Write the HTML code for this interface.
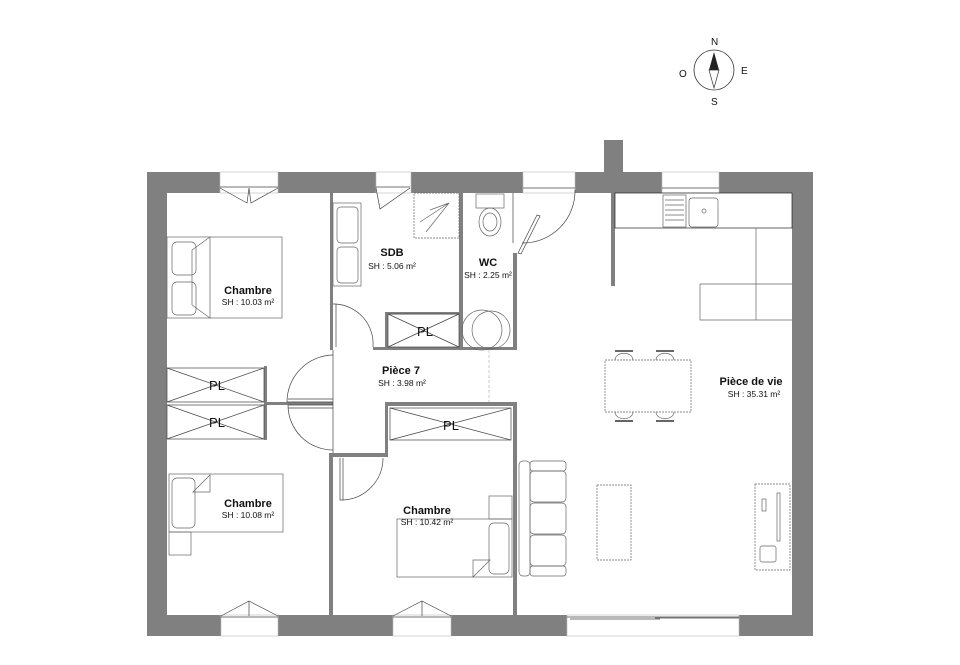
<!DOCTYPE html>
<html><head><meta charset="utf-8"><style>
html,body{margin:0;padding:0;background:#fff;}
svg{display:block;}
text{font-family:"Liberation Sans",sans-serif;fill:#111;}
.b{font-weight:bold;font-size:11px;text-anchor:middle;}
.s{font-size:8.5px;text-anchor:middle;}
.pl{font-size:13px;text-anchor:middle;}
</style></head><body>
<svg width="960" height="665" viewBox="0 0 960 665" xmlns="http://www.w3.org/2000/svg">
<rect width="960" height="665" fill="#fff"/>
<!-- compass -->
<circle cx="714" cy="70" r="20" fill="none" stroke="#333" stroke-width="0.8"/>
<polygon points="714,52 709,70 719,70" fill="#222"/>
<polygon points="709,70 719,70 714,88" fill="#fff" stroke="#333" stroke-width="0.7"/>
<text x="711" y="45" font-size="10">N</text>
<text x="741" y="74" font-size="10">E</text>
<text x="711" y="105" font-size="10">S</text>
<text x="679" y="77" font-size="10">O</text>

<g fill="#808080">
<!-- outer walls -->
<rect x="147" y="172" width="20" height="464"/>
<rect x="792" y="172" width="21" height="464"/>
<rect x="147" y="172" width="666" height="21"/>
<rect x="147" y="615" width="666" height="21"/>
<rect x="604" y="140" width="19" height="33"/>
<!-- interior walls -->
<rect x="330" y="193" width="3" height="157"/>
<rect x="459" y="193" width="4" height="157"/>
<rect x="373" y="347" width="144" height="3"/>
<rect x="385" y="312" width="76" height="2.5"/>
<rect x="385" y="312" width="3" height="38"/>
<rect x="513" y="253" width="4" height="97"/>
<rect x="611" y="193" width="4" height="93"/>
<rect x="267" y="402" width="66" height="3"/>
<rect x="330" y="402" width="3" height="3"/>
<rect x="385" y="402" width="132" height="4"/>
<rect x="385" y="402" width="3" height="55"/>
<rect x="330" y="453" width="58" height="4"/>
<rect x="329" y="453" width="4" height="162"/>
<rect x="513" y="402" width="4" height="213"/>
<rect x="264" y="366" width="3" height="74"/>
</g>
<!-- window openings -->
<g fill="#fff" stroke="#bbb" stroke-width="0.6">
<rect x="220" y="172" width="58" height="21"/>
<rect x="376" y="172" width="35" height="21"/>
<rect x="523" y="172" width="52" height="21"/>
<rect x="662" y="172" width="57" height="21"/>
<rect x="221" y="615" width="57" height="21"/>
<rect x="393" y="615" width="58" height="21"/>
<rect x="567" y="615" width="172" height="21"/>
</g>
<g fill="none" stroke="#444" stroke-width="0.7">
<!-- window sashes -->
<line x1="220" y1="187" x2="278" y2="187"/><path d="M220,188 L247,203 L249,188 M278,188 L251,203 L249,188"/>
<line x1="376" y1="187" x2="410" y2="187"/><path d="M376,188 L380,209 L410,188"/>
<line x1="662" y1="188" x2="719" y2="188"/>
<line x1="221" y1="617" x2="278" y2="617"/><path d="M221,616 L249,601 L278,616 M249,601 L249,616"/>
<line x1="393" y1="617" x2="451" y2="617"/><path d="M393,616 L422,601 L451,616 M422,601 L422,616"/>
<line x1="567" y1="617" x2="739" y2="617"/><line x1="570" y1="619" x2="660" y2="619"/><line x1="655" y1="618" x2="739" y2="618"/>
<!-- entrance door -->
<line x1="523" y1="188" x2="575" y2="188"/>
<path d="M575,190 A52,52 0 0 1 522,243"/>
<path d="M537,215 L518,253 L521,254 L540,216 Z"/>
<line x1="513" y1="193" x2="513" y2="243"/>
<!-- SDB door -->
<path d="M333,304 L336,304 L336,347 M336,304 A40,40 0 0 1 373,347"/>
<!-- Pièce7 doors -->
<path d="M333,355 A47,47 0 0 0 287,402 L333,402 M288,399 L333,399"/>
<path d="M333,450 A45,45 0 0 1 288,405 L333,405 M288,408 L333,408"/>
<path d="M340,458 L340,500 L343,500 L343,458 M343,500 A42,42 0 0 0 383,458"/>
<line x1="333" y1="350" x2="333" y2="453"/>
</g>
<line x1="489" y1="350" x2="489" y2="402" stroke="#bbb" stroke-width="0.8" stroke-dasharray="3,2"/>
<!-- closets -->
<g fill="none" stroke="#444" stroke-width="0.7">
<rect x="167" y="368" width="97" height="34"/><path d="M167,368 L264,402 M264,368 L167,402"/>
<rect x="167" y="405" width="97" height="34"/><path d="M167,405 L264,439 M264,405 L167,439"/>
<rect x="388" y="314" width="71" height="33"/><path d="M388,314 L459,347 M459,314 L388,347"/>
<rect x="390" y="408" width="121" height="32"/><path d="M390,408 L511,440 M511,408 L390,440"/>
</g>
<text class="pl" x="217" y="390">PL</text>
<text class="pl" x="217" y="427">PL</text>
<text class="pl" x="425" y="336">PL</text>
<text class="pl" x="451" y="430">PL</text>
<!-- furniture -->
<g fill="none" stroke="#666" stroke-width="0.7">
<!-- bed 1 -->
<rect x="167" y="237" width="115" height="81"/>
<rect x="172" y="242" width="24" height="33" rx="5"/><rect x="172" y="282" width="24" height="33" rx="5"/>
<path d="M192,250 L210,237 L210,318 L192,305 M192,250 L192,305"/>
<!-- sdb -->
<rect x="333" y="203" width="28" height="83"/>
<rect x="337" y="207" width="21" height="36" rx="4"/><rect x="337" y="247" width="21" height="36" rx="4"/>
<rect x="414" y="193" width="45" height="45" stroke-dasharray="2,1"/>
<path d="M449,203 L426,232 M449,203 L420,222 M449,203 L430,210"/>
<!-- wc -->
<rect x="476" y="194" width="28" height="14"/>
<ellipse cx="490" cy="222" rx="11" ry="14"/><ellipse cx="490" cy="222" rx="7" ry="9"/>
<circle cx="482" cy="330" r="20"/><circle cx="491" cy="330" r="19"/>
<!-- kitchen -->
<rect x="615" y="193" width="177" height="35" stroke="#222"/>
<rect x="663" y="195" width="23" height="32"/><rect x="689" y="198" width="29" height="29" rx="3"/>
<path d="M665,200 L684,200 M665,205 L684,205 M665,210 L684,210 M665,215 L684,215 M665,220 L684,220"/>
<circle cx="704" cy="211" r="2"/>
<path d="M756,228 L756,320 L792,320 M700,284 L792,284 M700,284 L700,320 L756,320"/>
<!-- dining -->
<rect x="605" y="360" width="86" height="52" stroke-dasharray="2,1"/>
<path d="M615,360 A8,6 0 0 1 633,360 M656,360 A8,6 0 0 1 674,360 M615,412 A8,6 0 0 0 633,412 M656,412 A8,6 0 0 0 674,412"/>
<line x1="615" y1="351" x2="633" y2="351" stroke-width="2"/><line x1="656" y1="351" x2="674" y2="351" stroke-width="2"/>
<line x1="615" y1="421" x2="633" y2="421" stroke-width="2"/><line x1="656" y1="421" x2="674" y2="421" stroke-width="2"/>
<!-- sofa -->
<rect x="519" y="461" width="11" height="115" rx="4"/>
<rect x="530" y="461" width="36" height="10" rx="3"/><rect x="530" y="566" width="36" height="10" rx="3"/>
<rect x="530" y="471" width="36" height="31" rx="4"/><rect x="530" y="503" width="36" height="31" rx="4"/><rect x="530" y="535" width="36" height="31" rx="4"/>
<rect x="597" y="485" width="34" height="75" stroke-dasharray="2,1"/>
<rect x="755" y="484" width="35" height="86" stroke-dasharray="2,1"/>
<rect x="777" y="493" width="3" height="48"/><rect x="762" y="499" width="4" height="12"/><rect x="760" y="546" width="16" height="16" rx="2"/>
<!-- bed lower left -->
<rect x="169" y="474" width="114" height="58"/>
<rect x="172" y="478" width="23" height="50" rx="5"/>
<path d="M193,492 L210,475 L210,492 Z"/>
<rect x="169" y="532" width="22" height="23"/>
<!-- bed middle -->
<rect x="397" y="519" width="115" height="58"/>
<rect x="489" y="523" width="20" height="51" rx="5"/>
<path d="M490,560 L473,577 L473,560 Z"/>
<rect x="489" y="496" width="23" height="23"/>
</g>
<!-- labels -->
<text class="b" x="248" y="294">Chambre</text><text class="s" x="248" y="305">SH : 10.03 m²</text>
<text class="b" x="392" y="256">SDB</text><text class="s" x="392" y="269">SH : 5.06 m²</text>
<text class="b" x="488" y="266">WC</text><text class="s" x="488" y="278">SH : 2.25 m²</text>
<text class="b" x="401" y="374">Pièce 7</text><text class="s" x="402" y="386">SH : 3.98 m²</text>
<text class="b" x="751" y="385">Pièce de vie</text><text class="s" x="754" y="397">SH : 35.31 m²</text>
<text class="b" x="248" y="507">Chambre</text><text class="s" x="248" y="518">SH : 10.08 m²</text>
<text class="b" x="427" y="514">Chambre</text><text class="s" x="427" y="525">SH : 10.42 m²</text>
</svg>
</body></html>
